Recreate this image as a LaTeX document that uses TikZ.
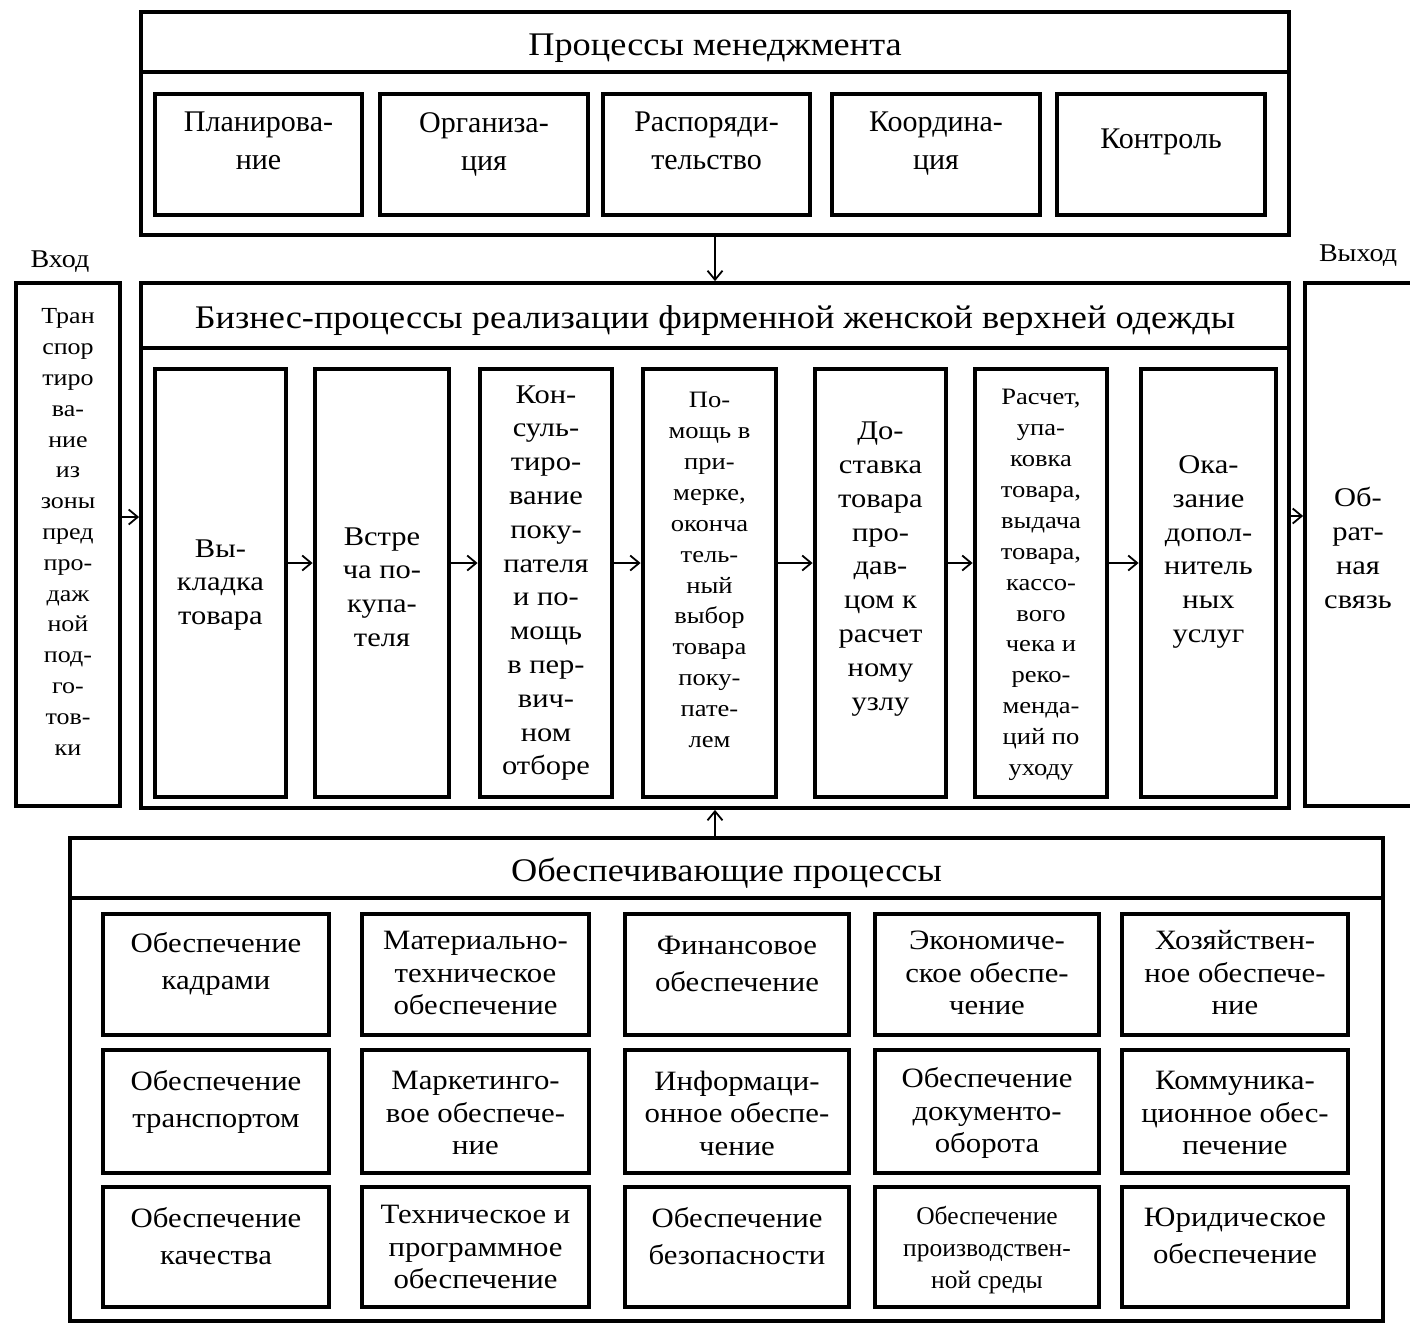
\documentclass[tikz,border=0pt]{standalone}
\usepackage{fontspec}
\setmainfont{Liberation Serif}
\newfontfamily\fs[FakeStretch=1.1]{Liberation Serif}
\newfontfamily\fb[FakeStretch=1.13]{Liberation Serif}
\usetikzlibrary{arrows.meta}
\begin{document}
\begin{tikzpicture}[x=1pt,y=-1pt,
  frame/.style={draw, line width=3.8pt, inner sep=0pt},
  ibox/.style={draw, line width=4.8pt, inner sep=0pt},
  arr/.style={line width=1.8pt, -{Straight Barb[length=9pt,width=15pt,line width=1.8pt]}},
  ttl/.style={font=\fs\fontsize{33}{40}\selectfont, text height=26pt, text depth=0pt},
  lbl/.style={inner sep=0pt, font=\fs\fontsize{25.5}{30}\selectfont},
  mtx/.style={inner sep=0pt, align=center, font=\fontsize{30}{38}\selectfont},
  btx/.style={inner sep=0pt, align=center, font=\fb\fontsize{27}{33.8}\selectfont},
  btxs/.style={inner sep=0pt, align=center, font=\fb\fontsize{23.5}{30.9}\selectfont},
  ltx/.style={inner sep=0pt, align=center, font=\fb\fontsize{23}{30.8}\selectfont},
  stx2/.style={inner sep=0pt, align=center, font=\fs\fontsize{28}{37}\selectfont},
  stx3/.style={inner sep=0pt, align=center, font=\fs\fontsize{28}{32.5}\selectfont},
  stxs/.style={inner sep=0pt, align=center, font=\fontsize{25.5}{32}\selectfont}
]
\useasboundingbox (0,0) rectangle (1410,1323);
\clip (0,0) rectangle (1410,1323);

% ---------- management ----------
\node[frame, minimum width=1148, minimum height=223] (mgmt) at (715,123.5) {};
\node[frame, ttl, minimum width=1148, minimum height=60] (mgmtH) at (715,42) {Процессы менеджмента};
\node[ibox, minimum width=207, minimum height=121] (plan) at (258.5,154.5) {};
\node[ibox, minimum width=208, minimum height=121] (org) at (484,154.5) {};
\node[ibox, minimum width=207, minimum height=121] (rasp) at (706.5,154.5) {};
\node[ibox, minimum width=208, minimum height=121] (koord) at (936,154.5) {};
\node[ibox, minimum width=208, minimum height=121] (kontr) at (1161,154.5) {};
\node[mtx] (planT) at ([yshift=13.5pt]plan.center) {Планирова-\\ние};
\node[mtx] (orgT) at ([yshift=10.5pt]org.center) {Организа-\\ция};
\node[mtx] (raspT) at ([yshift=13.5pt]rasp.center) {Распоряди-\\тельство};
\node[mtx] (koordT) at ([yshift=10.5pt]koord.center) {Координа-\\ция};
\node[mtx] (kontrT) at ([yshift=12.5pt]kontr.center) {Контроль};

% ---------- business ----------
\node[frame, minimum width=1148, minimum height=525] (biz) at (715,545.5) {};
\node[frame, ttl, minimum width=1148, minimum height=65] (bizH) at (715,315.5) {Бизнес-процессы реализации фирменной женской верхней одежды};

\node[ibox, minimum width=131, minimum height=428] (vyk) at (220.5,583) {};
\node[ibox, minimum width=134, minimum height=428] (vstr) at (382,583) {};
\node[ibox, minimum width=132, minimum height=428] (kons) at (546,583) {};
\node[ibox, minimum width=133, minimum height=428] (pom) at (709.5,583) {};
\node[ibox, minimum width=131, minimum height=428] (dost) at (880.5,583) {};
\node[ibox, minimum width=132, minimum height=428] (rasch) at (1041,583) {};
\node[ibox, minimum width=135, minimum height=428] (okaz) at (1208.5,583) {};

\node[btx] (vykT) at (220.5,585) {Вы-\\кладка\\товара};
\node[btx] (vstrT) at (382,587) {Встре\\ча по-\\купа-\\теля};
\node[btx] (konsT) at (546,583) {Кон-\\суль-\\тиро-\\вание\\поку-\\пателя\\и по-\\мощь\\в пер-\\вич-\\ном\\отборе};
\node[btxs] (pomT) at (709.5,570) {По-\\мощь в\\при-\\мерке,\\оконча\\тель-\\ный\\выбор\\товара\\поку-\\пате-\\лем};
\node[btx] (dostT) at (880.5,569) {До-\\ставка\\товара\\про-\\дав-\\цом к\\расчет\\ному\\узлу};
\node[btxs] (raschT) at (1041,585) {Расчет,\\упа-\\ковка\\товара,\\выдача\\товара,\\кассо-\\вого\\чека и\\реко-\\менда-\\ций по\\уходу};
\node[btx] (okazT) at (1208.5,552) {Ока-\\зание\\допол-\\нитель\\ных\\услуг};

\foreach \a/\b in {vyk/vstr, vstr/kons, kons/pom, pom/dost, dost/rasch, rasch/okaz}{
  \coordinate (s\a) at ([yshift=20pt]\a.east);
  \draw[arr] (s\a) -- (s\a -| \b.west);
}

% ---------- input / output ----------
\node[lbl] (vhod) at (60,262) {Вход};
\node[frame, minimum width=104, minimum height=523] (inb) at (68,544.5) {};
\node[ltx] (inbT) at (68,532) {Тран\\спор\\тиро\\ва-\\ние\\из\\зоны\\пред\\про-\\даж\\ной\\под-\\го-\\тов-\\ки};

\node[lbl] (vyhod) at (1358,256) {Выход};
\node[frame, minimum width=125, minimum height=523] (outb) at (1367.5,544.5) {};
\node[btx] (outbT) at (1358,548) {Об-\\рат-\\ная\\связь};

\coordinate (inA) at ([yshift=27.5pt]inb.east);
\draw[arr] (inA) -- (inA -| biz.west);
\coordinate (outA) at ([yshift=29.5pt]biz.east);
\draw[arr] (outA) -- (outA -| outb.west);

% ---------- support ----------
\node[frame, minimum width=1313, minimum height=483] (supp) at (726.5,1079.5) {};
\node[frame, ttl, minimum width=1313, minimum height=60] (suppH) at (726.5,868) {Обеспечивающие процессы};

\draw[arr] (mgmt.south) -- (biz.north);
\draw[arr] (supp.north -| biz.south) -- (biz.south);

% row 1
\node[ibox, minimum width=226, minimum height=121] (s11) at (216,974.5) {};
\node[ibox, minimum width=227, minimum height=121] (s12) at (475.5,974.5) {};
\node[ibox, minimum width=224, minimum height=121] (s13) at (737,974.5) {};
\node[ibox, minimum width=224, minimum height=121] (s14) at (987,974.5) {};
\node[ibox, minimum width=226, minimum height=121] (s15) at (1235,974.5) {};
% row 2
\node[ibox, minimum width=226, minimum height=123] (s21) at (216,1111.5) {};
\node[ibox, minimum width=227, minimum height=123] (s22) at (475.5,1111.5) {};
\node[ibox, minimum width=224, minimum height=123] (s23) at (737,1111.5) {};
\node[ibox, minimum width=224, minimum height=123] (s24) at (987,1111.5) {};
\node[ibox, minimum width=226, minimum height=123] (s25) at (1235,1111.5) {};
% row 3
\node[ibox, minimum width=226, minimum height=120] (s31) at (216,1247) {};
\node[ibox, minimum width=227, minimum height=120] (s32) at (475.5,1247) {};
\node[ibox, minimum width=224, minimum height=120] (s33) at (737,1247) {};
\node[ibox, minimum width=224, minimum height=120] (s34) at (987,1247) {};
\node[ibox, minimum width=226, minimum height=120] (s35) at (1235,1247) {};

\node[stx2] (t11) at (216,963.5) {Обеспечение\\кадрами};
\node[stx3] (t12) at (475.5,973) {Материально-\\техническое\\обеспечение};
\node[stx2] (t13) at (737,963.5) {Финансовое\\обеспечение};
\node[stx3] (t14) at (987,973) {Экономиче-\\ское обеспе-\\чение};
\node[stx3] (t15) at (1235,973) {Хозяйствен-\\ное обеспече-\\ние};

\node[stx2] (t21) at (216,1101.5) {Обеспечение\\транспортом};
\node[stx3] (t22) at (475.5,1113) {Маркетинго-\\вое обеспече-\\ние};
\node[stx3] (t23) at (737,1113) {Информаци-\\онное обеспе-\\чение};
\node[stx3] (t24) at (987,1113) {Обеспечение\\документо-\\оборота};
\node[stx3] (t25) at (1235,1113) {Коммуника-\\ционное обес-\\печение};

\node[stx2] (t31) at (216,1236) {Обеспечение\\качества};
\node[stx3] (t32) at (475.5,1247) {Техническое и\\программное\\обеспечение};
\node[stx2] (t33) at (737,1236) {Обеспечение\\безопасности};
\node[stxs] (t34) at (987,1250) {Обеспечение\\производствен-\\ной среды};
\node[stx2] (t35) at (1235,1236) {Юридическое\\обеспечение};
\end{tikzpicture}
\end{document}
